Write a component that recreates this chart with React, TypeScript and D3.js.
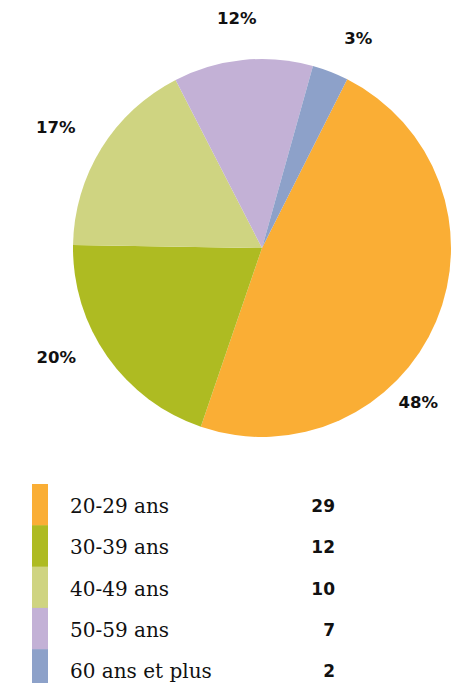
import React, { useRef, useEffect } from "react"
import * as d3 from "d3"

const categories = ["20-29 ans", "30-39 ans", "40-49 ans", "50-59 ans", "60 ans et plus"]
const counts = [29, 12, 10, 7, 2]
// slice shares as drawn in the source (%)
const shares = [47.8, 20.0, 17.2, 11.9, 3.1]
const percentLabels = ["48%", "20%", "17%", "12%", "3%"]
const colors = ["#FAAE35", "#AEBB22", "#CFD481", "#C3B1D6", "#8DA1C9"]

export default function App() {
  const svgRef = useRef<SVGSVGElement>(null)

  useEffect(() => {
    const svg = d3.select(svgRef.current)
    svg.selectAll("*").remove()

    const cx = 262, cy = 248, radius = 189
    // pie is rotated so the big slice starts a bit right of 12 o'clock
    const start = (26.8 * Math.PI) / 180

    const pie = d3.pie<number>().sort(null).startAngle(start).endAngle(start + 2 * Math.PI)
    const arcs = pie(shares)
    const arc = d3.arc<d3.PieArcDatum<number>>().innerRadius(0).outerRadius(radius)

    const g = svg.append("g").attr("transform", "translate(" + cx + "," + cy + ")")

    g.selectAll("path")
      .data(arcs)
      .enter()
      .append("path")
      .attr("d", arc)
      .attr("fill", (d, i) => colors[i])

    // label placement (best-fit style: angle nudge in degrees + radius)
    const labelShift = [21.9, 7.1, -1.5, -0.5, 3.4]
    const labelR = [220, 233, 239, 231, 231]
    const ang = (d: d3.PieArcDatum<number>, i: number) =>
      (d.startAngle + d.endAngle) / 2 + (labelShift[i] * Math.PI) / 180

    g.selectAll("text.pct")
      .data(arcs)
      .enter()
      .append("text")
      .attr("class", "pct")
      .attr("x", (d, i) => Math.sin(ang(d, i)) * labelR[i])
      .attr("y", (d, i) => -Math.cos(ang(d, i)) * labelR[i])
      .attr("text-anchor", "middle")
      .attr("dominant-baseline", "central")
      .attr("font-family", "'DejaVu Sans', sans-serif")
      .attr("font-weight", "bold")
      .attr("font-size", "16.5px")
      .attr("fill", "#111")
      .text((d, i) => percentLabels[i])

    // legend
    const y = d3.scaleBand().domain(categories).range([484, 690.5]).padding(0)
    svg.append("defs").append("clipPath").attr("id", "legclip")
      .append("rect").attr("x", 0).attr("y", 0).attr("width", 463).attr("height", 683)

    const legend = svg.append("g").attr("clip-path", "url(#legclip)")

    legend.selectAll("rect")
      .data(categories)
      .enter()
      .append("rect")
      .attr("x", 32)
      .attr("y", (d) => y(d)!)
      .attr("width", 16)
      .attr("height", y.bandwidth() + 0.5)
      .attr("fill", (d, i) => colors[i])

    legend.selectAll("text.cat")
      .data(categories)
      .enter()
      .append("text")
      .attr("class", "cat")
      .attr("x", 70)
      .attr("y", (d) => y(d)! + y.bandwidth() / 2 + 1.5)
      .attr("dominant-baseline", "central")
      .attr("font-family", "'DejaVu Serif', serif")
      .attr("font-size", "20px")
      .attr("fill", "#111")
      .text((d) => d)

    legend.selectAll("text.val")
      .data(categories)
      .enter()
      .append("text")
      .attr("class", "val")
      .attr("x", 335)
      .attr("y", (d) => y(d)! + y.bandwidth() / 2 + 1.5)
      .attr("text-anchor", "end")
      .attr("dominant-baseline", "central")
      .attr("font-family", "'DejaVu Sans', sans-serif")
      .attr("font-weight", "bold")
      .attr("font-size", "17px")
      .attr("fill", "#111")
      .text((d, i) => counts[i])
  }, [])

  return (
    <svg
      ref={svgRef}
      width={463}
      height={685}
      style={{ position: "absolute", left: 0, top: 0, display: "block", background: "#fff" }}
    ></svg>
  )
}
